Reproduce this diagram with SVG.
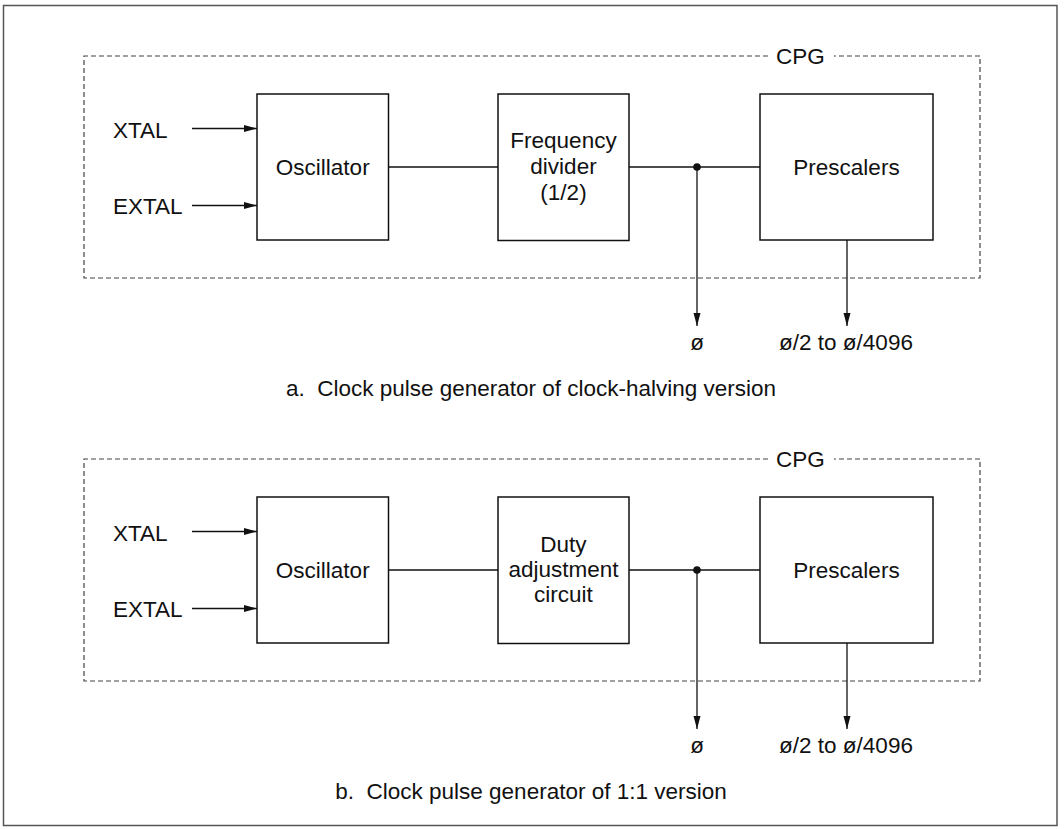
<svg xmlns="http://www.w3.org/2000/svg" width="1064" height="829" viewBox="0 0 1064 829">
<style>
text{font-family:"Liberation Sans",Arial,sans-serif;font-size:22.5px;fill:#111}
.c{text-anchor:middle}
.box{fill:#fff;stroke:#111;stroke-width:1.5}
.dash{fill:none;stroke:#444;stroke-width:1.2;stroke-dasharray:5 3}
.ln{fill:none;stroke:#111;stroke-width:1.3}
</style>
<defs>
<marker id="ah" markerUnits="userSpaceOnUse" markerWidth="14" markerHeight="8" refX="13" refY="3.5" orient="auto"><path d="M0,0 L13,3.5 L0,7 z" fill="#111"/></marker>
</defs>
<rect x="3.5" y="5.5" width="1053.5" height="820" fill="#fff" stroke="#555" stroke-width="1.5"/>

<g id="cpg-a">
<path class="dash" d="M768,56 L84,56 L84,278 L980,278 L980,56 L834,56"/>
<text class="c" x="800.5" y="64">CPG</text>
</g>
<g id="cpg-b">
<path class="dash" d="M768,459 L84,459 L84,681 L980,681 L980,459 L834,459"/>
<text class="c" x="800.5" y="467">CPG</text>
</g>

<g id="connectors">
<line class="ln" x1="192" y1="128.5" x2="257" y2="128.5" marker-end="url(#ah)"/>
<line class="ln" x1="192" y1="205.5" x2="257" y2="205.5" marker-end="url(#ah)"/>
<line class="ln" x1="389" y1="167" x2="498" y2="167"/>
<line class="ln" x1="629" y1="167" x2="760" y2="167"/>
<line class="ln" x1="697" y1="167" x2="697" y2="326" marker-end="url(#ah)"/>
<line class="ln" x1="847" y1="240" x2="847" y2="326" marker-end="url(#ah)"/>
<circle cx="697" cy="167" r="3.8" fill="#111"/>

<line class="ln" x1="192" y1="531.5" x2="257" y2="531.5" marker-end="url(#ah)"/>
<line class="ln" x1="192" y1="608.5" x2="257" y2="608.5" marker-end="url(#ah)"/>
<line class="ln" x1="389" y1="570" x2="498" y2="570"/>
<line class="ln" x1="629" y1="570" x2="760" y2="570"/>
<line class="ln" x1="697" y1="570" x2="697" y2="729" marker-end="url(#ah)"/>
<line class="ln" x1="847" y1="643" x2="847" y2="729" marker-end="url(#ah)"/>
<circle cx="697" cy="570" r="3.8" fill="#111"/>
</g>

<g id="labels-a">
<text x="113" y="137.5">XTAL</text>
<text x="113" y="214">EXTAL</text>
<text class="c" x="697" y="350">ø</text>
<text class="c" x="846" y="350">ø/2 to ø/4096</text>
<text class="c" x="531" y="395.5" xml:space="preserve">a.  Clock pulse generator of clock-halving version</text>
</g>
<g id="osc-a">
<rect class="box" x="257" y="94" width="131.5" height="146"/>
<text class="c" x="322.75" y="175">Oscillator</text>
</g>
<g id="div-a">
<rect class="box" x="498" y="94" width="131" height="146.5"/>
<text class="c" x="563.5" y="148">Frequency</text>
<text class="c" x="563.5" y="174">divider</text>
<text class="c" x="563.5" y="199.5">(1/2)</text>
</g>
<g id="pre-a">
<rect class="box" x="760" y="94" width="173" height="146"/>
<text class="c" x="846.5" y="175">Prescalers</text>
</g>

<g id="labels-b">
<text x="113" y="540.5">XTAL</text>
<text x="113" y="617">EXTAL</text>
<text class="c" x="697" y="753">ø</text>
<text class="c" x="846" y="753">ø/2 to ø/4096</text>
<text class="c" x="531" y="798.5" xml:space="preserve">b.  Clock pulse generator of 1:1 version</text>
</g>
<g id="osc-b">
<rect class="box" x="257" y="497" width="131.5" height="146"/>
<text class="c" x="322.75" y="578">Oscillator</text>
</g>
<g id="duty-b">
<rect class="box" x="498" y="497" width="131" height="146.5"/>
<text class="c" x="563.5" y="552">Duty</text>
<text class="c" x="563.5" y="577">adjustment</text>
<text class="c" x="563.5" y="602">circuit</text>
</g>
<g id="pre-b">
<rect class="box" x="760" y="497" width="173" height="146"/>
<text class="c" x="846.5" y="578">Prescalers</text>
</g>
</svg>
